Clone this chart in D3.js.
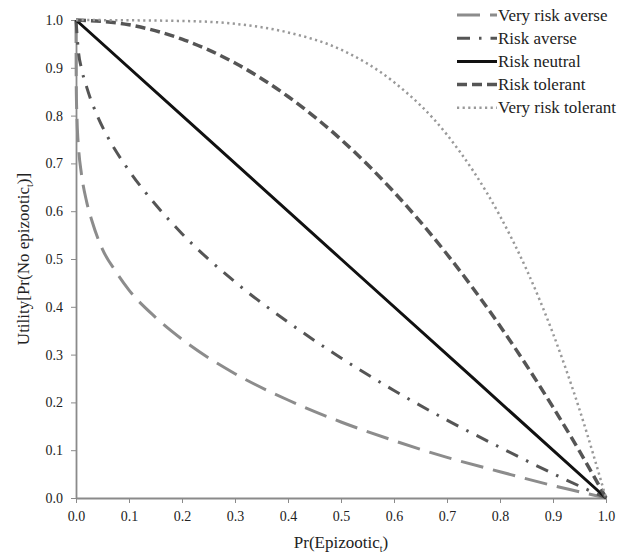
<!DOCTYPE html>
<html>
<head>
<meta charset="utf-8">
<script src="https://cdn.jsdelivr.net/npm/d3@7"></script>
<style>
  body { margin: 0; background: #fff; }
  svg text { font-family: "Liberation Serif", "Tinos", "Times New Roman", "DejaVu Serif", serif !important; fill: #222; }
</style>
</head>
<body>
<div id="root"></div>
<script>
// series, [Pr(epizootic), utility]
const veryRiskAverse = [
  [0, 1], [0.0005, 0.86], [0.002, 0.79], [0.005, 0.73], [0.01, 0.68], [0.02, 0.62],
  [0.03, 0.58], [0.05, 0.52], [0.075, 0.474], [0.1, 0.435], [0.15, 0.378], [0.2, 0.332],
  [0.3, 0.26], [0.4, 0.205], [0.5, 0.159], [0.6, 0.12], [0.7, 0.085], [0.8, 0.055],
  [0.9, 0.026], [0.95, 0.013], [1, 0]
]
const riskAverse = [
  [0, 1], [0.005, 0.93], [0.01, 0.9], [0.02, 0.86], [0.04, 0.8], [0.06, 0.755],
  [0.1, 0.685], [0.15, 0.614], [0.2, 0.553], [0.3, 0.452], [0.4, 0.368], [0.5, 0.293],
  [0.6, 0.225], [0.7, 0.163], [0.8, 0.106], [0.9, 0.051], [0.95, 0.025], [1, 0]
]
const riskNeutral = [[0, 1], [0.5, 0.5], [1, 0]]
const riskTolerant = [
  [0, 1], [0.1, 0.99], [0.2, 0.96], [0.3, 0.91], [0.4, 0.84], [0.5, 0.75],
  [0.6, 0.64], [0.7, 0.51], [0.8, 0.36], [0.9, 0.19], [0.95, 0.098], [1, 0]
]
const veryRiskTolerant = [
  [0, 1], [0.2, 0.998], [0.3, 0.992], [0.4, 0.974], [0.5, 0.938], [0.6, 0.87],
  [0.7, 0.76], [0.8, 0.59], [0.85, 0.478], [0.9, 0.344], [0.95, 0.185], [1, 0]
]
const seriesNames = ["Very risk averse", "Risk averse", "Risk neutral", "Risk tolerant", "Very risk tolerant"]
const tickValues = [0, 0.1, 0.2, 0.3, 0.4, 0.5, 0.6, 0.7, 0.8, 0.9, 1.0]

const series = [
  { name: seriesNames[0], values: veryRiskAverse, color: "#8c8c8c", width: 3, dash: "23,10" },
  { name: seriesNames[1], values: riskAverse, color: "#555", width: 3, dash: "13,9,2.5,9" },
  { name: seriesNames[2], values: riskNeutral, color: "#111", width: 3, dash: null },
  { name: seriesNames[3], values: riskTolerant, color: "#555", width: 3.5, dash: "10,5" },
  { name: seriesNames[4], values: veryRiskTolerant, color: "#999", width: 2.5, dash: "2.2,3.4" },
]

const width = 633
const height = 554
const margin = { top: 20, right: 27, bottom: 56, left: 76 }
const boundedWidth = width - margin.left - margin.right
const boundedHeight = height - margin.top - margin.bottom
const serif = "'Liberation Serif', Tinos, 'Times New Roman', 'DejaVu Serif', serif"

const svg = d3.select("#root").append("svg")
  .attr("width", width)
  .attr("height", height)

const bounds = svg.append("g")
  .attr("transform", `translate(${margin.left},${margin.top})`)

const xScale = d3.scaleLinear().domain([0, 1]).range([0, boundedWidth])
const yScale = d3.scaleLinear().domain([0, 1]).range([boundedHeight, 0])

// axes
const yAxis = bounds.append("g")
  .call(d3.axisLeft(yScale).tickValues(tickValues).tickFormat(d3.format(".1f"))
    .tickSize(5).tickSizeOuter(0).tickPadding(8))
const xAxis = bounds.append("g")
  .attr("transform", `translate(0,${boundedHeight})`)
  .call(d3.axisBottom(xScale).tickValues(tickValues).tickFormat(d3.format(".1f"))
    .tickSize(5).tickSizeOuter(0).tickPadding(8))

for (const ax of [xAxis, yAxis]) {
  ax.attr("font-family", serif).attr("font-size", 14)
  ax.select(".domain").attr("stroke", "#8a8a8a").attr("stroke-width", 1.8)
  ax.selectAll(".tick line").attr("stroke", "#8a8a8a").attr("stroke-width", 1)
  ax.selectAll(".tick text").attr("fill", "#222")
}

// lines
const line = d3.line()
  .x(d => xScale(d[0]))
  .y(d => yScale(d[1]))
  .curve(d3.curveMonotoneX)

bounds.selectAll("path.series")
  .data(series)
  .join("path")
  .attr("class", "series")
  .attr("fill", "none")
  .attr("stroke", d => d.color)
  .attr("stroke-width", d => d.width)
  .attr("stroke-dasharray", d => d.dash)
  .attr("d", d => line(d.values))

// axis labels
const xLabel = svg.append("text")
  .attr("x", margin.left + boundedWidth / 2)
  .attr("y", 548)
  .attr("text-anchor", "middle")
  .style("font-size", "17px")
xLabel.append("tspan").text("Pr(Epizootic")
xLabel.append("tspan").attr("font-size", "10px").attr("dy", 4).text("t")
xLabel.append("tspan").attr("dy", -4).text(")")

const yLabel = svg.append("text")
  .attr("transform", `translate(29,${margin.top + boundedHeight / 2}) rotate(-90)`)
  .attr("text-anchor", "middle")
  .style("font-size", "17px")
yLabel.append("tspan").text("Utility[Pr(No epizootic")
yLabel.append("tspan").attr("font-size", "10px").attr("dy", 4).text("t")
yLabel.append("tspan").attr("dy", -4).text(")]")

// legend
const legend = svg.append("g")
  .attr("transform", "translate(457,15)")

const legendRows = legend.selectAll("g")
  .data(series)
  .join("g")
  .attr("transform", (d, i) => `translate(0,${i * 23.2})`)

legendRows.append("line")
  .attr("x1", 0).attr("x2", 40)
  .attr("stroke", d => d.color)
  .attr("stroke-width", d => d.width)
  .attr("stroke-dasharray", d => d.dash)

legendRows.append("text")
  .attr("x", 41)
  .attr("dy", "0.33em")
  .style("font-size", "17px")
  .text(d => d.name)
</script>
</body>
</html>
